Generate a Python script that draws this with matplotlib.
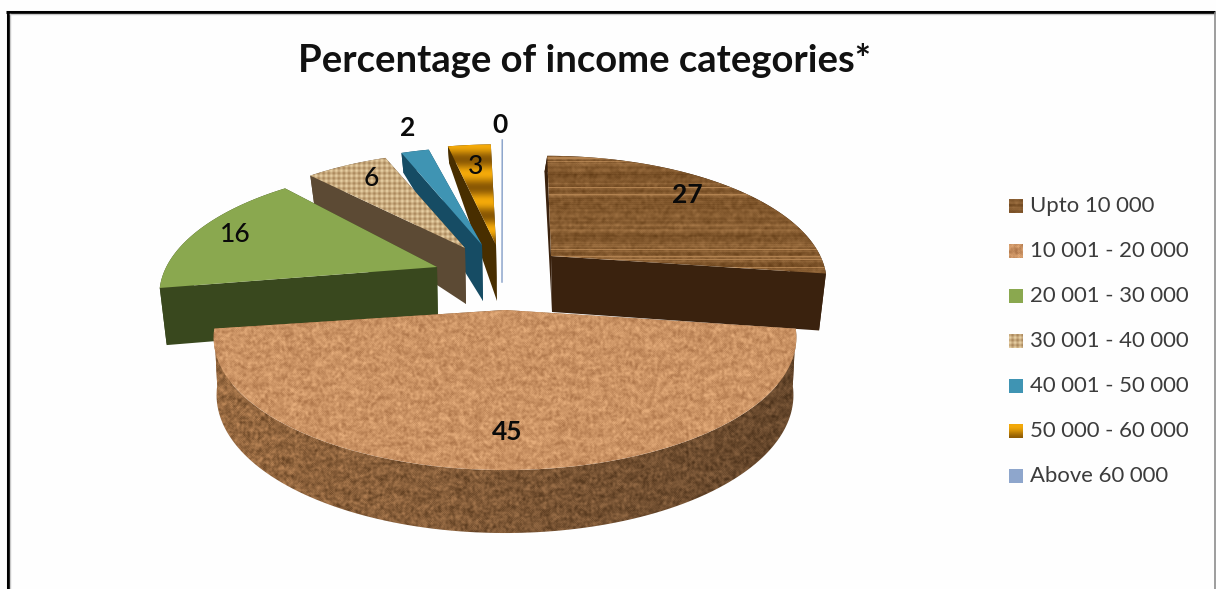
"""Exploded 3D-style pie of income categories, with textured slices."""
import numpy as np
import matplotlib
matplotlib.use("Agg")
import matplotlib.pyplot as plt
from matplotlib.patches import Polygon

plt.rcParams["font.family"] = ["Lato", "DejaVu Sans"]

categories = ["Upto 10 000", "10 001 - 20 000", "20 001 - 30 000", "30 001 - 40 000",
              "40 001 - 50 000", "50 000 - 60 000", "Above 60 000"]
shares = [27, 45, 16, 6, 2, 3, 0]

W, H = 1216, 589

# pie layout: where each slice's point sits, how far its rim reaches, how far it is turned
apex_xy = [(551, 256), (505, 310), (437, 267), (465, 248), (482, 245), (496, 245), (502, 245)]
rim_scale = [0.945, 1.0, 0.95, 0.90, 0.92, 0.95, 1.0]
turn_deg = [0, 0, -1.5, -4, -3.5, -1.5, 0]
label_xy = [(687, 195), (507, 432), (235, 235), (371, 178), (408, 128), (476, 167), (500, 125)]
label_weight = ["bold", "bold", "medium", "medium", "bold", "medium", "bold"]
draw_order = [6, 5, 4, 3, 2, 0, 1]

RX, RY, PERSP = 285.0, 126.8, 0.2077
legend_x, legend_rows = 1009, [206, 251, 296, 341, 386, 431, 476]


def hash_noise(h, w, seed=0.0, smooth=2):
    """Deterministic grain, box-smoothed a little."""
    yy, xx = np.mgrid[0:h, 0:w]
    n = np.sin(xx * 12.9898 + yy * 78.233 + seed) * 43758.5453
    n = n - np.floor(n)
    for _ in range(smooth):
        n = (n + np.roll(n, 1, 0) + np.roll(n, -1, 0) + np.roll(n, 1, 1) + np.roll(n, -1, 1)) / 5
    return (n - n.mean()) / (n.std() + 1e-9)


def tint(shade, low, high):
    low, high = np.array(low) / 255, np.array(high) / 255
    t = np.clip(shade, 0, 1)[..., None]
    return low + (high - low) * t


def wood(h, w):
    rows = hash_noise(h, 1, 3.1, smooth=0)
    soft = (rows + np.roll(rows, 1, 0) + np.roll(rows, 2, 0)) / 3
    grain = hash_noise(h, w, 1.3, smooth=3)
    shade = 0.45 + 0.20 * soft + 0.07 * grain
    # thin pale seams between the boards
    shade = shade + 0.6 * (rows > 1.55)
    return tint(shade, (98, 60, 22), (178, 130, 80))


def cork(h, w, low=(176, 120, 76), high=(228, 172, 122)):
    yy, xx = np.mgrid[0:h, 0:w]
    blotch = hash_noise(h, w, 0.7, smooth=2)
    ripple = np.sin(yy / 2.5 + np.sin(xx / 9.0) * 1.6)
    return tint(0.52 + 0.17 * blotch + 0.10 * ripple, low, high)


def cork_side(h, w):
    # wall of the big slice falls into shadow towards the right
    base = cork(h, w, (112, 74, 40), (190, 136, 88))
    fade = np.linspace(1.0, 0.66, w)[None, :, None]
    return base * fade


def burlap(h, w):
    yy, xx = np.mgrid[0:h, 0:w]
    weave = np.sin((xx + yy) * 0.62) * np.sin((xx - yy) * 0.62)
    return tint(0.55 + 0.45 * weave, (164, 128, 84), (232, 208, 164))


def gold(h, w):
    yy = np.arange(h)[:, None] * np.ones((1, w))
    return tint(0.5 + 0.5 * np.sin(yy * 2 * np.pi / 28.0 + 0.9), (138, 88, 4), (244, 170, 10))


def flat(rgb):
    def fill(h, w):
        return np.ones((h, w, 3)) * np.array(rgb) / 255
    return fill


top_fill = [wood, cork, flat((138, 168, 79)), burlap, flat((63, 148, 179)), gold, flat((142, 166, 204))]
side_fill = [flat((58, 34, 14)), cork_side, flat((57, 72, 30)), flat((92, 74, 52)), flat((22, 76, 100)),
             flat((72, 46, 0)), flat((142, 166, 204))]


def persp(v):
    return 1.0 / (1.0 + PERSP * v)


def rim_xy(apex, theta, scale):
    """Project a point of the slice disc; theta runs clockwise from 12 o'clock."""
    u, v = np.sin(theta) * scale, np.cos(theta) * scale
    s = persp(v)
    x = apex[0] + RX * u * s + (apex[0] - 505) * (s - 1) * 0.5
    y = apex[1] - RY * v * s
    return x, y, v


def depth(v):
    return np.where(v > 0, 56 - 42 * v, 56 - 7 * v)


def textured(ax, points, fill, zorder):
    pts = np.array(points)
    x0, x1 = int(pts[:, 0].min()) - 2, int(pts[:, 0].max()) + 3
    y0, y1 = int(pts[:, 1].min()) - 2, int(pts[:, 1].max()) + 3
    outline = Polygon(pts, closed=True, facecolor="none", edgecolor="none", transform=ax.transData)
    ax.add_patch(outline)
    img = ax.imshow(fill(y1 - y0, x1 - x0), extent=(x0, x1, y1, y0), aspect="auto",
                    zorder=zorder, interpolation="bilinear")
    img.set_clip_path(outline)


fig = plt.figure(figsize=(W / 100, H / 100), dpi=100, facecolor="#fefefe")
ax = fig.add_axes([0, 0, 1, 1])

total = sum(shares)
cum = np.cumsum([0] + shares) / total * 2 * np.pi

z = 2
for i in draw_order:
    apex, scale = apex_xy[i], rim_scale[i]
    if shares[i] == 0:
        # a zero share only leaves a hairline
        fx, fy, _ = rim_xy(apex, 2 * np.pi, scale)
        ax.plot([fx, apex[0]], [fy, apex[1] + 37], color=top_fill[i](1, 1)[0, 0], lw=1.1, zorder=z)
        z += 1
        continue
    turn = np.radians(turn_deg[i])
    theta = np.linspace(cum[i] + turn, cum[i + 1] + turn, 120)
    rx, ry, rv = rim_xy(apex, theta, scale)
    shrink = 0.99 if i == 1 else 0.975
    bx = apex[0] + (rx - apex[0]) * shrink
    by = ry + depth(rv)
    if i == 0:
        # first slice leans out a little so its inner face shows
        bx = bx - 3 * np.clip(rv, 0, 1)
    a_bottom = (apex[0] + 1, apex[1] + 56)

    # radial faces first, rim wall next, top surface over them
    for k in (0, -1):
        textured(ax, [apex, a_bottom, (bx[k], by[k]), (rx[k], ry[k])], side_fill[i], z)
    wall = list(zip(rx, ry)) + list(zip(bx[::-1], by[::-1]))
    textured(ax, wall, side_fill[i], z)
    textured(ax, [apex] + list(zip(rx, ry)), top_fill[i], z + 0.5)
    z += 1

for i, (x, y) in enumerate(label_xy):
    ax.text(x, y, str(shares[i]), ha="center", va="center", fontsize=19, color="#0a0a0a",
            fontweight=label_weight[i], zorder=50)

ax.text(585, 60, "Percentage of income categories*", ha="center", va="center",
        fontsize=27.5, fontweight="bold", color="#111111", zorder=50)

# legend swatches share the slice fills
for i, name in enumerate(categories):
    y = legend_rows[i]
    swatch = [(legend_x, y - 7), (legend_x + 14, y - 7), (legend_x + 14, y + 7), (legend_x, y + 7)]
    textured(ax, swatch, top_fill[i], 40)
    ax.text(legend_x + 21, y, name, ha="left", va="center", fontsize=15.9, color="#3c3c3c", zorder=50)

# picture frame
ax.plot([7.5, 7.5], [H, 12], color="black", lw=2.2, zorder=60, solid_capstyle="butt")
ax.plot([6, 1215], [12, 12], color="black", lw=2.2, zorder=60, solid_capstyle="butt")
ax.plot([10, 10], [H, 14], color="#c8c8c8", lw=1, zorder=60)
ax.plot([10, 1214], [14, 14], color="#c8c8c8", lw=1, zorder=60)
ax.plot([1214.5, 1214.5], [13, H], color="#8c8c8c", lw=1.2, zorder=60)

ax.set_xlim(0, W)
ax.set_ylim(H, 0)
ax.axis("off")
fig.savefig("out.png", dpi=100, facecolor=fig.get_facecolor())
